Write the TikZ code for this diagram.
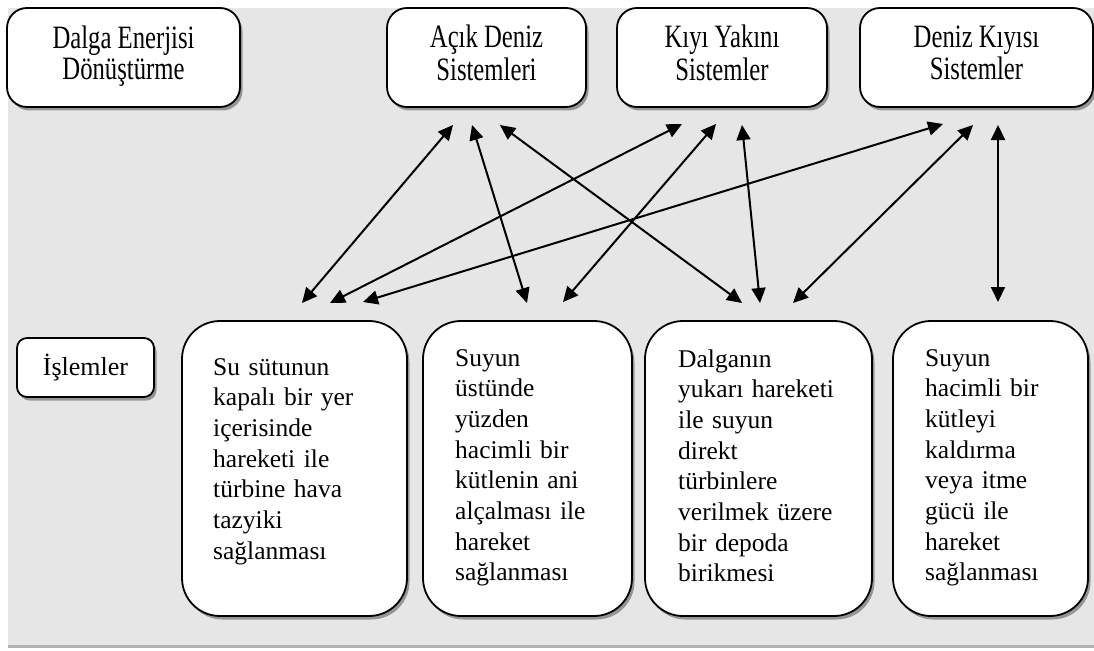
\documentclass[tikz,border=0pt]{standalone}
\usepackage{fontspec}
\setmainfont{Liberation Serif}
\usepackage{graphicx}
\usetikzlibrary{shadows,arrows.meta}
\definecolor{bgc}{HTML}{E6E6E6}
\newcommand{\topfnt}{\fontsize{24.7}{24}\selectfont}
\newcommand{\tstretch}[1]{\raisebox{-2.5pt}{\scalebox{1}[1.32]{\topfnt\begin{tabular}{@{}c@{}}#1\end{tabular}}}}
\begin{document}
\begin{tikzpicture}[x=1pt,y=-1pt,
  shd/.style={drop shadow={shadow xshift=2.5pt,shadow yshift=-3.5pt,opacity=0.35,fill=black}},
  topbox/.style={draw=black,line width=1.8pt,fill=white,rounded corners=20pt,shd,
    minimum height=99pt,inner sep=0pt},
  bigbox/.style={draw=black,line width=1.8pt,fill=white,rounded corners=38pt,shd,
    minimum height=295pt,inner sep=0pt},
  smallbox/.style={draw=black,line width=1.8pt,fill=white,rounded corners=10pt,shd,
    minimum height=59pt,minimum width=137pt,inner sep=0pt,font=\fontsize{26}{30}\selectfont},
  txt/.style={anchor=base west,inner sep=0pt,align=left,text width=200pt,
    font=\fontsize{25.5}{30.7}\selectfont},
  arr/.style={line width=2pt,{Triangle[length=15pt,width=14pt]}-{Triangle[length=15pt,width=14pt]}}
]
\useasboundingbox (0,0) rectangle (1094,650);
\fill[bgc,drop shadow={shadow xshift=0pt,shadow yshift=-3pt,opacity=0.3,fill=black}] (8,8) rectangle (1094,645);

% top boxes
\node[topbox,minimum width=233pt] (dalga) at (123.5,57.5) {\tstretch{Dalga Enerjisi\\Dönüştürme}};
\node[topbox,minimum width=199pt] (acik) at (486.5,57.5) {\tstretch{Açık Deniz\\Sistemleri}};
\node[topbox,minimum width=210pt] (kiyi) at (722,57.5) {\tstretch{Kıyı Yakını\\Sistemler}};
\node[topbox,minimum width=233pt] (deniz) at (976.5,57.5) {\tstretch{Deniz Kıyısı\\Sistemler}};

% bottom boxes
\node[smallbox] (islem) at (85.5,367.5) {İşlemler};
\node[bigbox,minimum width=225pt] (b1) at (294.5,468.5) {};
\node[bigbox,minimum width=209pt] (b2) at (527.5,468.5) {};
\node[bigbox,minimum width=227pt] (b3) at (758.5,468.5) {};
\node[bigbox,minimum width=195pt] (b4) at (990.5,468.5) {};

\node[txt] (t1) at (213,375) {Su sütunun\\kapalı bir yer\\içerisinde\\hareketi ile\\türbine hava\\tazyiki\\sağlanması};
\node[txt] (t2) at (455,366) {Suyun\\üstünde\\yüzden\\hacimli bir\\kütlenin ani\\alçalması ile\\hareket\\sağlanması};
\node[txt] (t3) at (678,367) {Dalganın\\yukarı hareketi\\ile suyun\\direkt\\türbinlere\\verilmek üzere\\bir depoda\\birikmesi};
\node[txt] (t4) at (925,366) {Suyun\\hacimli bir\\kütleyi\\kaldırma\\veya itme\\gücü ile\\hareket\\sağlanması};

% arrow end points
\coordinate (a1) at (453,125);
\coordinate (a2) at (472,125);
\coordinate (a3) at (500,125);
\coordinate (k1) at (682,124);
\coordinate (k2) at (716,124);
\coordinate (k3) at (742,125);
\coordinate (d1) at (943,124);
\coordinate (d2) at (973,125);
\coordinate (d3) at (998,125);
\coordinate (p1a) at (302,303);
\coordinate (p1b) at (330,303);
\coordinate (p1c) at (363,302);
\coordinate (p2a) at (527,303);
\coordinate (p2b) at (563,302);
\coordinate (p3a) at (742,303);
\coordinate (p3b) at (760,303);
\coordinate (p3c) at (793,303);
\coordinate (p4a) at (998,302);

\draw[arr] (a1) -- (p1a);
\draw[arr] (a2) -- (p2a);
\draw[arr] (a3) -- (p3a);
\draw[arr] (k1) -- (p1b);
\draw[arr] (k2) -- (p2b);
\draw[arr] (k3) -- (p3b);
\draw[arr] (d1) -- (p1c);
\draw[arr] (d2) -- (p3c);
\draw[arr] (d3) -- (p4a);
\end{tikzpicture}
\end{document}
